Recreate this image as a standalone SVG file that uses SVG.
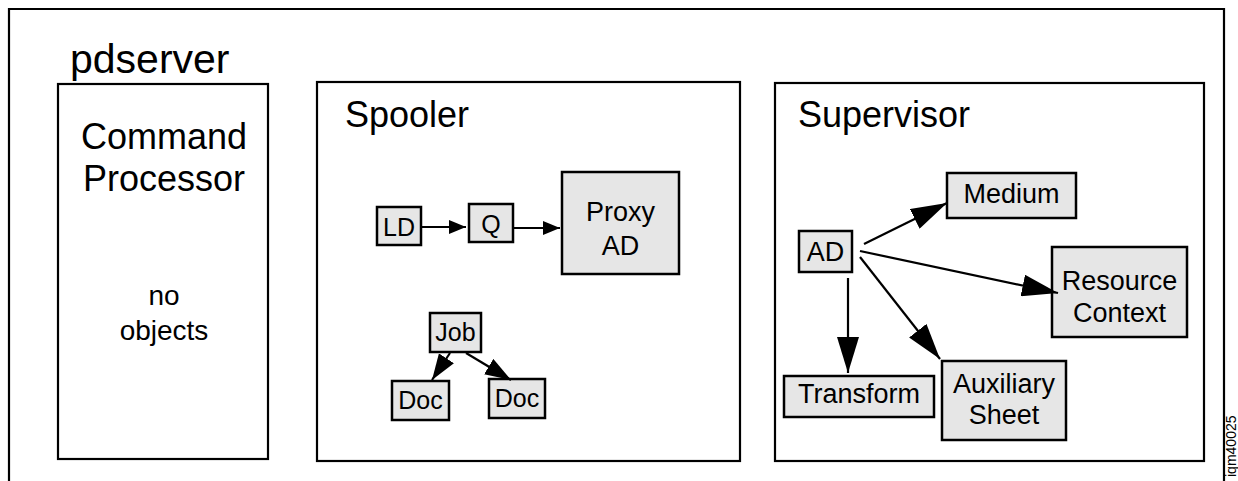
<svg xmlns="http://www.w3.org/2000/svg" width="1238" height="481" viewBox="0 0 1238 481">
<style>
.frame{fill:none;stroke:#000;stroke-width:2.2}
.node{fill:#e6e6e6;stroke:#000;stroke-width:2.5}
.t{font-family:"Liberation Sans",Arial,sans-serif;fill:#000}
.big{font-size:36px}
.mid{font-size:27px}
.sm{font-size:25px}
.edge{stroke:#000;stroke-width:2.2;fill:none}
</style>
<defs>
<marker id="ah-s" markerUnits="userSpaceOnUse" markerWidth="18" markerHeight="14" refX="17" refY="7" orient="auto" viewBox="0 0 18 14"><path d="M0,0 L17,7 L0,14 Z" fill="#000"/></marker>
<marker id="ah-m" markerUnits="userSpaceOnUse" markerWidth="27" markerHeight="18" refX="26" refY="9" orient="auto" viewBox="0 0 27 18"><path d="M0,0 L26,9 L0,18 Z" fill="#000"/></marker>
<marker id="ah-l" markerUnits="userSpaceOnUse" markerWidth="37" markerHeight="22" refX="36" refY="11" orient="auto" viewBox="0 0 37 22"><path d="M0,0 L36,11 L0,22 Z" fill="#000"/></marker>
</defs>
<rect width="1238" height="481" fill="#fff"/>
<g id="pdserver">
<path class="frame" d="M9,482 V9 H1224 V482"/>
<text class="t" font-size="41" x="70" y="73">pdserver</text>
</g>
<g id="command-processor">
<rect class="frame" x="58" y="84" width="210" height="375"/>
<text class="t big" x="164" y="149" text-anchor="middle">Command</text>
<text class="t big" x="164" y="191" text-anchor="middle">Processor</text>
<text class="t" font-size="28" x="164" y="305" text-anchor="middle">no</text>
<text class="t" font-size="28" x="164" y="340" text-anchor="middle">objects</text>
</g>
<g id="spooler">
<rect class="frame" x="317" y="82" width="423" height="379"/>
<text class="t big" x="345" y="127">Spooler</text>
</g>
<g id="supervisor">
<rect class="frame" x="775" y="83" width="429" height="378"/>
<text class="t big" x="798" y="127">Supervisor</text>
</g>
<g id="ld"><rect class="node" x="377" y="207" width="44" height="38"/><text class="t sm" x="399" y="236" text-anchor="middle">LD</text></g>
<g id="q"><rect class="node" x="469" y="204" width="44" height="38"/><text class="t sm" x="491" y="233" text-anchor="middle">Q</text></g>
<g id="proxy-ad"><rect class="node" x="562" y="172" width="117" height="102"/><text class="t mid" x="620.5" y="221" text-anchor="middle">Proxy</text><text class="t mid" x="620.5" y="255" text-anchor="middle">AD</text></g>
<g id="job"><rect class="node" x="430" y="313" width="51" height="39"/><text class="t sm" x="455.5" y="341" text-anchor="middle">Job</text></g>
<g id="doc1"><rect class="node" x="392" y="381" width="57" height="39"/><text class="t sm" x="420.5" y="409" text-anchor="middle">Doc</text></g>
<g id="doc2"><rect class="node" x="489" y="379" width="56" height="39"/><text class="t sm" x="517" y="407" text-anchor="middle">Doc</text></g>
<g id="ad"><rect class="node" x="799" y="231" width="53" height="41"/><text class="t mid" x="825.5" y="261" text-anchor="middle">AD</text></g>
<g id="medium"><rect class="node" x="947" y="173" width="129" height="45"/><text class="t mid" x="1011.5" y="203" text-anchor="middle">Medium</text></g>
<g id="resource-context"><rect class="node" x="1052" y="247" width="135" height="90"/><text class="t mid" x="1119.5" y="290" text-anchor="middle">Resource</text><text class="t mid" x="1119.5" y="322" text-anchor="middle">Context</text></g>
<g id="transform"><rect class="node" x="784" y="376" width="150" height="41"/><text class="t mid" x="859" y="403" text-anchor="middle">Transform</text></g>
<g id="auxiliary-sheet"><rect class="node" x="942" y="361" width="124" height="79"/><text class="t mid" x="1004" y="393" text-anchor="middle">Auxiliary</text><text class="t mid" x="1004" y="424" text-anchor="middle">Sheet</text></g>
<g id="connectors">
<line class="edge" x1="421" y1="227" x2="466" y2="227" marker-end="url(#ah-s)"/>
<line class="edge" x1="514" y1="228" x2="560" y2="228" marker-end="url(#ah-s)"/>
<line class="edge" x1="450" y1="353" x2="432" y2="380" marker-end="url(#ah-m)"/>
<line class="edge" x1="466" y1="353" x2="511" y2="380" marker-end="url(#ah-m)"/>
<line class="edge" x1="864" y1="244" x2="947" y2="203" marker-end="url(#ah-l)"/>
<line class="edge" x1="860" y1="251" x2="1058" y2="293" marker-end="url(#ah-l)"/>
<line class="edge" x1="860" y1="257" x2="940" y2="359" marker-end="url(#ah-l)"/>
<line class="edge" x1="848" y1="278" x2="848" y2="373" marker-end="url(#ah-l)"/>
</g>
<text class="t" x="0" y="0" font-size="14" transform="translate(1235.5,477) rotate(-90)">iqm40025</text>
</svg>
